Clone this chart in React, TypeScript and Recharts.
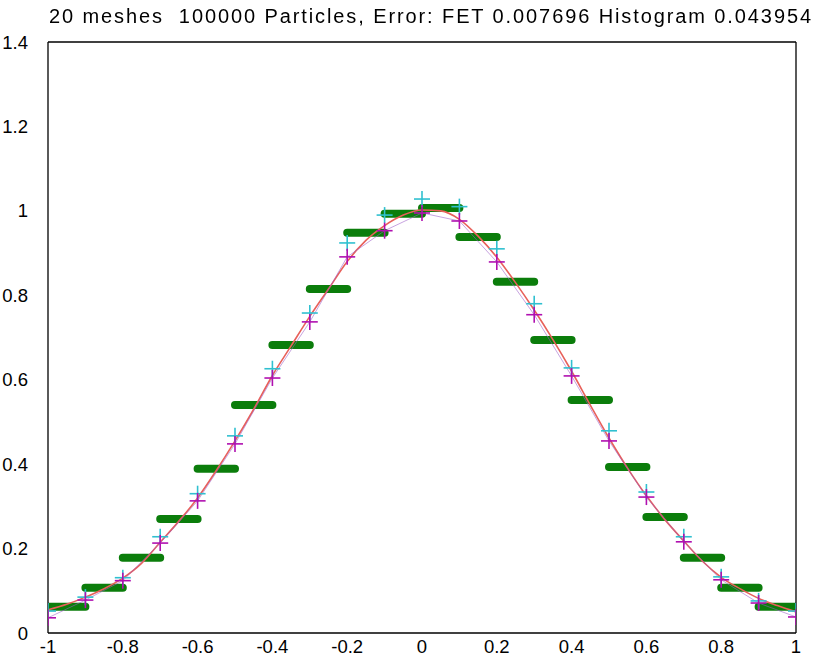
import React from 'react';
import { ComposedChart, Line, Scatter, XAxis, YAxis } from 'recharts';

// mesh nodes, bin values and the two particle estimates
const nodes = [-1, -0.9, -0.8, -0.7, -0.6, -0.5, -0.4, -0.3, -0.2, -0.1, 0, 0.1, 0.2, 0.3, 0.4, 0.5, 0.6, 0.7, 0.8, 0.9, 1];
const histValues = [0.062, 0.107, 0.178, 0.27, 0.389, 0.54, 0.682, 0.815, 0.948, 0.993, 1.007, 0.938, 0.832, 0.694, 0.552, 0.393, 0.275, 0.178, 0.107, 0.062];
const cyanValues = [0.052, 0.085, 0.131, 0.228, 0.33, 0.467, 0.626, 0.758, 0.924, 0.99, 1.028, 1.01, 0.91, 0.78, 0.628, 0.479, 0.334, 0.228, 0.133, 0.076, 0.052];
const magentaValues = [0.036, 0.078, 0.124, 0.213, 0.313, 0.448, 0.604, 0.737, 0.891, 0.953, 0.995, 0.976, 0.879, 0.754, 0.609, 0.455, 0.322, 0.216, 0.126, 0.071, 0.038];

const curveX = [-1, -0.95, -0.9, -0.85, -0.8, -0.75, -0.7, -0.65, -0.6, -0.55, -0.5, -0.45, -0.4, -0.35, -0.3, -0.25, -0.2, -0.15, -0.1, -0.05, 0, 0.05, 0.1, 0.15, 0.2, 0.25, 0.3, 0.35, 0.4, 0.45, 0.5, 0.55, 0.6, 0.65, 0.7, 0.75, 0.8, 0.85, 0.9, 0.95, 1];
const curveY = [0.055, 0.068, 0.085, 0.105, 0.13, 0.165, 0.215, 0.265, 0.32, 0.385, 0.455, 0.53, 0.61, 0.68, 0.75, 0.815, 0.88, 0.93, 0.965, 0.99, 1.002, 1.0, 0.98, 0.94, 0.89, 0.83, 0.765, 0.695, 0.62, 0.54, 0.462, 0.39, 0.325, 0.268, 0.218, 0.17, 0.132, 0.105, 0.082, 0.065, 0.05];

const xTicks = [-1, -0.8, -0.6, -0.4, -0.2, 0, 0.2, 0.4, 0.6, 0.8, 1];
const yTicks = [0, 0.2, 0.4, 0.6, 0.8, 1, 1.2, 1.4];

const title = '20 meshes  100000 Particles, Error: FET 0.007696 Histogram 0.043954';

// each bin is a separate flat segment, broken by a null point
const histData: { x: number; y: number | null }[] = [];
histValues.forEach((v, i) => {
  histData.push({ x: nodes[i], y: v });
  histData.push({ x: nodes[i + 1], y: v });
  histData.push({ x: nodes[i + 1], y: null });
});
const cyanData = nodes.map((x, i) => ({ x, y: cyanValues[i] }));
const magentaData = nodes.map((x, i) => ({ x, y: magentaValues[i] }));
const curveData = curveX.map((x, i) => ({ x, y: curveY[i] }));

const FONT = '"Liberation Sans", Arial, sans-serif';

const plus = (color: string) => (props: any) => {
  const { cx, cy } = props;
  if (cx == null || cy == null) return <g />;
  return (
    <g stroke={color} strokeWidth={1.6}>
      <line x1={cx - 8} y1={cy} x2={cx + 8} y2={cy} />
      <line x1={cx} y1={cy - 8} x2={cx} y2={cy + 8} />
    </g>
  );
};

const fmt = (v: number) => String(v);

export default function App() {
  const tickStyle = { fontSize: 18.5, fill: '#000', fontFamily: FONT };
  return (
    <div style={{ position: 'fixed', left: 0, top: 8, width: 812, height: 655, background: '#fff' }}>
      <div
        style={{
          position: 'absolute',
          top: -4,
          left: 0,
          width: 862,
          lineHeight: '24px',
          textAlign: 'center',
          fontFamily: FONT,
          fontSize: 20,
          letterSpacing: 1.9,
          color: '#000',
          whiteSpace: 'pre',
          zIndex: 2,
        }}
      >
        {title}
      </div>
      <ComposedChart width={812} height={655} margin={{ top: 34, right: 16, bottom: 0, left: 0 }}>
        <XAxis
          xAxisId="main"
          dataKey="x"
          type="number"
          domain={[-1, 1]}
          ticks={xTicks}
          tickFormatter={fmt}
          height={30}
          tickLine={false}
          tickSize={0}
          tickMargin={7}
          axisLine={{ stroke: '#000', strokeWidth: 1.3 }}
          tick={tickStyle}
          allowDataOverflow
        />
        <XAxis
          xAxisId="bottomIn"
          type="number"
          orientation="bottom"
          mirror
          domain={[-1, 1]}
          ticks={xTicks}
          tick={false}
          tickSize={7}
          tickLine={{ stroke: '#000', strokeWidth: 1.3 }}
          axisLine={false}
        />
        <XAxis
          xAxisId="top"
          type="number"
          orientation="top"
          mirror
          domain={[-1, 1]}
          ticks={xTicks}
          tick={false}
          tickSize={7}
          tickLine={{ stroke: '#000', strokeWidth: 1.3 }}
          axisLine={{ stroke: '#000', strokeWidth: 1.3 }}
        />
        <YAxis
          yAxisId="main"
          type="number"
          domain={[0, 1.4]}
          ticks={yTicks}
          tickFormatter={fmt}
          width={48}
          tickLine={false}
          tickSize={0}
          tickMargin={20}
          axisLine={{ stroke: '#000', strokeWidth: 1.3 }}
          tick={tickStyle}
          allowDataOverflow
        />
        <YAxis
          yAxisId="leftIn"
          type="number"
          orientation="left"
          mirror
          domain={[0, 1.4]}
          ticks={yTicks}
          tick={false}
          tickSize={7}
          tickLine={{ stroke: '#000', strokeWidth: 1.3 }}
          axisLine={false}
        />
        <YAxis
          yAxisId="right"
          type="number"
          orientation="right"
          mirror
          domain={[0, 1.4]}
          ticks={yTicks}
          tick={false}
          tickSize={7}
          tickLine={{ stroke: '#000', strokeWidth: 1.3 }}
          axisLine={{ stroke: '#000', strokeWidth: 1.3 }}
        />
        <Line
          xAxisId="main"
          yAxisId="main"
          data={histData}
          dataKey="y"
          stroke="#0b7d0b"
          strokeWidth={8}
          strokeLinecap="round"
          dot={false}
          activeDot={false}
          connectNulls={false}
          isAnimationActive={false}
        />
        <Line
          xAxisId="main"
          yAxisId="main"
          data={curveData}
          dataKey="y"
          type="monotone"
          stroke="#e8605a"
          strokeWidth={1.6}
          dot={false}
          activeDot={false}
          isAnimationActive={false}
        />
        <Line
          xAxisId="main"
          yAxisId="main"
          data={magentaData}
          dataKey="y"
          stroke="#9a5ac8"
          strokeWidth={0.8}
          strokeOpacity={0.7}
          dot={false}
          activeDot={false}
          isAnimationActive={false}
        />
        <Scatter
          xAxisId="main"
          yAxisId="main"
          data={cyanData}
          dataKey="y"
          fill="#30c0d0"
          shape={plus('#30c0d0')}
          isAnimationActive={false}
        />
        <Scatter
          xAxisId="main"
          yAxisId="main"
          data={magentaData}
          dataKey="y"
          fill="#b010b0"
          shape={plus('#b010b0')}
          isAnimationActive={false}
        />
      </ComposedChart>
    </div>
  );
}
